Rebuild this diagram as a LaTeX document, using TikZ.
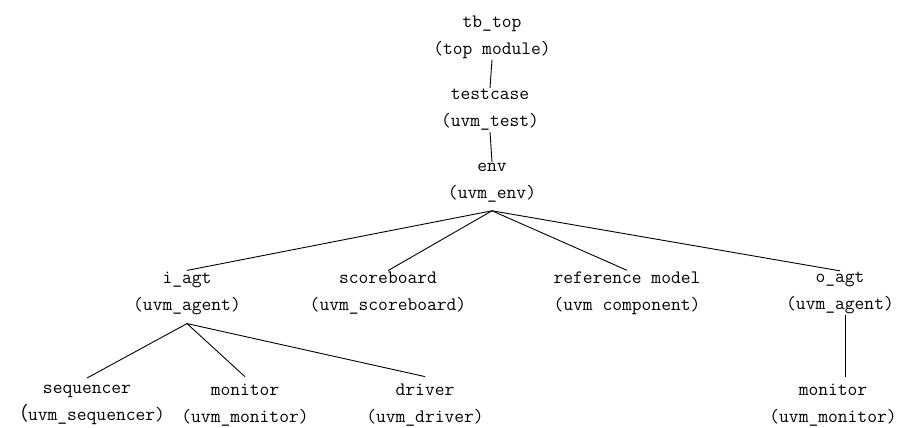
\documentclass[tikz,border=0pt]{standalone}
\usepackage{fontspec}
\newfontfamily\cjk{Noto Sans CJK SC}

\begin{document}
\begin{tikzpicture}[x=1pt, y=-1pt,
        box/.style={align=center, inner sep=1pt, font=\fontsize{19}{27}\selectfont\ttfamily},
        edge/.style={draw, line width=0.9pt}]
        \useasboundingbox (0,0) rectangle (899,428);
        \node[box](top) at (492, 37) {tb\_top\\(top module)};
        \node[box](tc) at (490, 110) {testcase\\(uvm\_test)};
        \node[box](env) at (492, 183) {env\\(uvm\_env)};
        \node[box](iagt) at (187, 293) {i\_agt\\(uvm\_agent)};
        \node[box](scb) at (388, 293) {scoreboard\\(uvm\_scoreboard)};
        \node[box](rm) at (627, 293) {reference model\\(uvm component)};
        \node[box](oagt) at (840, 293) {o\_agt\\(uvm\_agent)};
        \node[box](sqr) at (87, 405) {sequencer\\{\cjk （}uvm\_sequencer)};
        \node[box](imon) at (245, 405) {monitor\\(uvm\_monitor)};
        \node[box](drv) at (425, 405) {driver\\(uvm\_driver)};
        \node[box](omon) at (833, 405) {monitor\\(uvm\_monitor)};
        \draw[edge] (top.south) -- (tc.north);
        \draw[edge] (tc.south) -- (env.north);
        \draw[edge] ([yshift=-7pt]env.south) -- (iagt.north);
        \draw[edge] ([yshift=-7pt]env.south) -- (scb.north);
        \draw[edge] ([yshift=-7pt]env.south) -- (rm.north);
        \draw[edge] ([yshift=-7pt]env.south) -- (oagt.north);
        \draw[edge] ([yshift=-8pt]iagt.south) -- ([yshift=6pt]sqr.north);
        \draw[edge] ([yshift=-8pt]iagt.south) -- ([yshift=6pt]imon.north);
        \draw[edge] ([yshift=-8pt]iagt.south) -- ([yshift=6pt]drv.north);
        \draw[edge] ([xshift=5pt]oagt.south) -- ([xshift=12pt, yshift=6pt]omon.north);
\end{tikzpicture}
\end{document}
